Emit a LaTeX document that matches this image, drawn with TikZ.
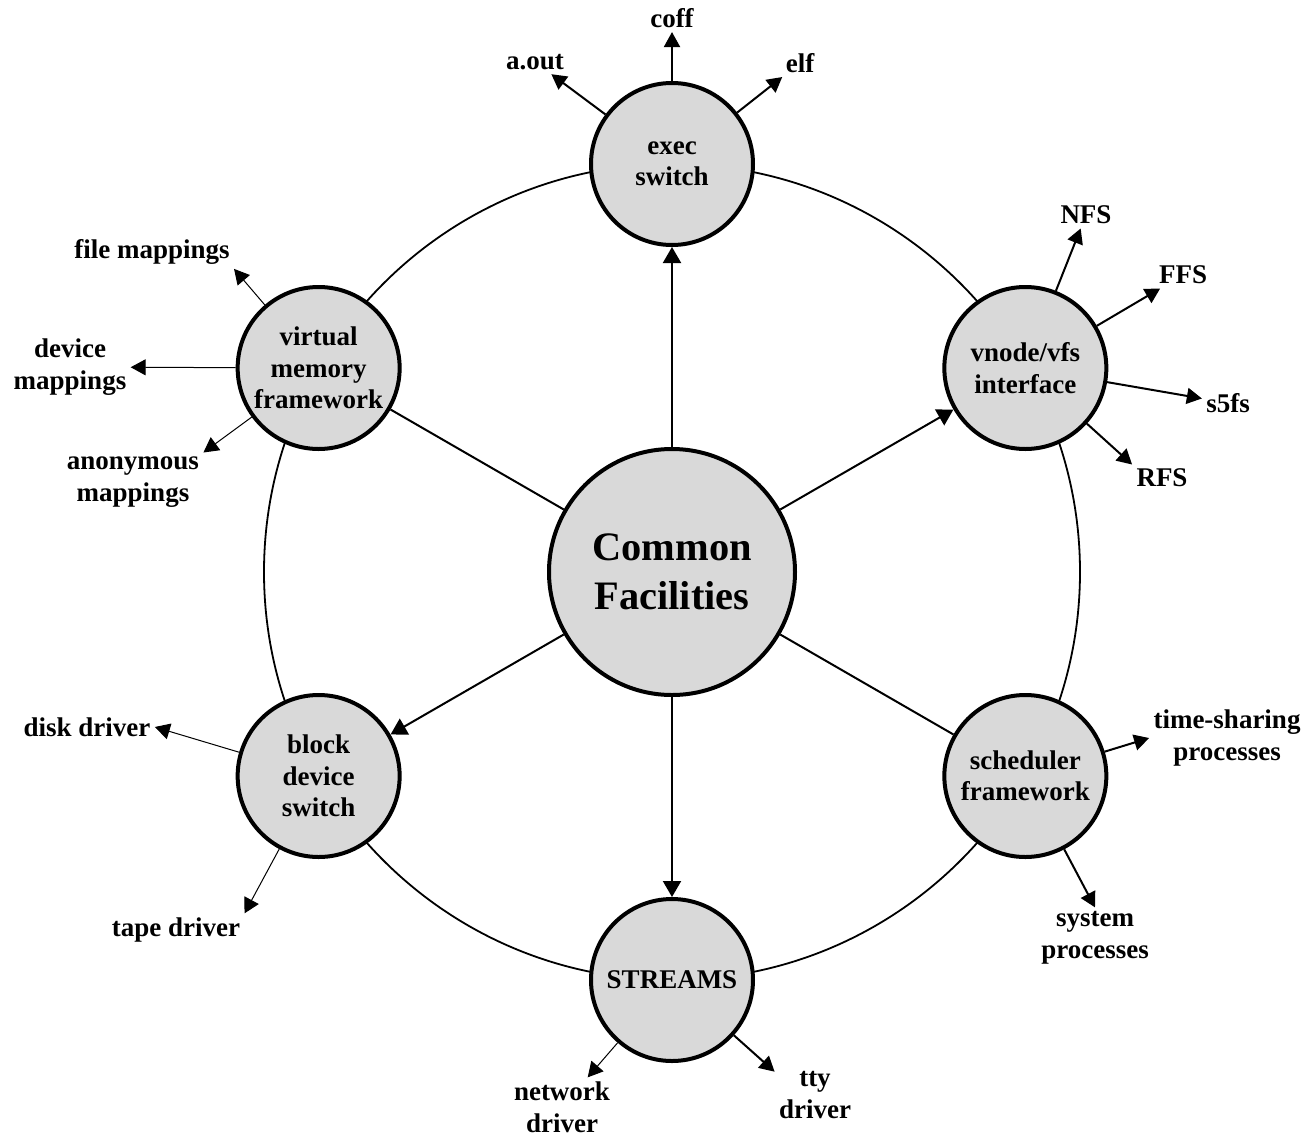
\documentclass[tikz,border=0pt]{standalone}
\usepackage{fontspec}
\setmainfont{Liberation Serif}
\usetikzlibrary{arrows.meta}

\begin{document}
\begin{tikzpicture}[x=0.5pt,y=0.5pt,
		facility/.style={circle,draw,line width=2pt,fill=black!15,minimum size=81pt,inner sep=0pt,align=center,
			font=\fontsize{13.5}{15.75}\selectfont\bfseries},
		hub/.style={facility,minimum size=123pt,font=\fontsize{20.2}{24.5}\selectfont\bfseries},
		lbl/.style={align=center,inner sep=2pt,font=\fontsize{13.5}{15.75}\selectfont\bfseries},
		spoke/.style={line width=1pt},
		leadout/.style={line width=1pt,-{Triangle[length=7.5pt,width=8pt]}},
		thinlead/.style={leadout,line width=0.5pt}]
		\useasboundingbox (-672,-564) rectangle (633,572);

		% the ring joining the subsystems
		\draw[line width=0.9pt] (0,0) circle[radius=204pt];

		\node[hub] (cf) at (0,0) {Common\\Facilities};
		\node[facility] (exec) at (90:408) {exec\\switch};
		\node[facility] (vnode) at (30:408) {vnode/vfs\\interface};
		\node[facility] (sched) at (-30:408) {scheduler\\framework};
		\node[facility] (streams) at (-90:408) {STREAMS};
		\node[facility] (block) at (-150:408) {block\\device\\switch};
		\node[facility] (vm) at (150:408) {virtual\\memory\\framework};

		\draw[spoke,-{Triangle[length=8pt,width=9pt]}] (cf) -- (exec);
		\draw[spoke,-{Triangle[length=8pt,width=9pt]}] (cf) -- (vnode);
		\draw[spoke] (cf) -- (sched);
		\draw[spoke,-{Triangle[length=8pt,width=9pt]}] (cf) -- (streams);
		\draw[spoke,-{Triangle[length=8pt,width=9pt]}] (cf) -- (block);
		\draw[spoke] (cf) -- (vm);

		% exec formats
		\node[lbl] (coff) at (0,554) {coff};
		\node[lbl] (aout) at (-137,510) {a.out};
		\node[lbl] (elf) at (128,509) {elf};
		\draw[leadout] (exec) -- (coff);
		\draw[leadout] (exec) -- (aout);
		\draw[leadout] (exec) -- (elf);

		% file systems
		\node[lbl] (nfs) at (414,357) {NFS};
		\node[lbl] (ffs) at (511,297) {FFS};
		\node[lbl] (sfs) at (556,169) {s5fs};
		\node[lbl] (rfs) at (490,94) {RFS};
		\draw[leadout] (vnode) -- (nfs);
		\draw[leadout] (vnode) -- (ffs);
		\draw[leadout] (vnode) -- (sfs);
		\draw[leadout] (vnode) -- (rfs.north west);

		% memory mappings
		\node[lbl] (filemap) at (-520,320) {file mappings};
		\node[lbl] (devmap) at (-602,205) {device\\mappings};
		\node[lbl] (anonmap) at (-539,90) {anonymous\\mappings};
		\draw[thinlead] (vm) -- (filemap.south east);
		\draw[thinlead] (vm) -- (devmap);
		\draw[thinlead] (vm) -- (anonmap.north east);

		% block drivers
		\node[lbl] (disk) at (-585,-155) {disk driver};
		\node[lbl] (tape) at (-496,-358) {tape driver};
		\draw[thinlead] (block) -- (disk.east);
		\draw[thinlead] (block) -- (tape.north east);

		% scheduling classes
		\node[lbl] (tsp) at (555,-166) {time-sharing\\processes};
		\node[lbl] (sysp) at (423,-366) {system\\processes};
		\draw[leadout] (sched) -- (tsp.west);
		\draw[leadout] (sched) -- (sysp.north);

		% stream drivers
		\node[lbl] (net) at (-110,-535) {network\\driver};
		\node[lbl] (tty) at (143,-523) {tty\\driver};
		\draw[thinlead] (streams) -- (net);
		\draw[leadout] (streams) -- (tty.150);
	\end{tikzpicture}
\end{document}
